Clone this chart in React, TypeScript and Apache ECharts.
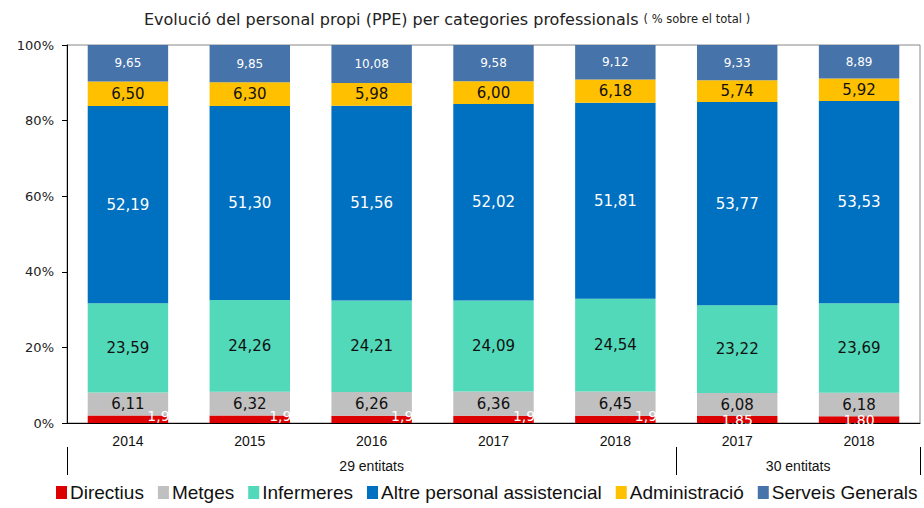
import React, { useEffect, useRef } from "react";
import * as echarts from "echarts";

const categories = ["2014", "2015", "2016", "2017", "2018", "2017", "2018"];
const groupNames = ["29 entitats", "30 entitats"];
const groupSizes = [5, 2];

const seriesNames = [
  "Directius",
  "Metges",
  "Infermeres",
  "Altre personal assistencial",
  "Administració",
  "Serveis Generals",
];
const directius = [1.96, 1.97, 1.91, 1.95, 1.9, 1.85, 1.8];
const metges = [6.11, 6.32, 6.26, 6.36, 6.45, 6.08, 6.18];
const infermeres = [23.59, 24.26, 24.21, 24.09, 24.54, 23.22, 23.69];
const altre = [52.19, 51.3, 51.56, 52.02, 51.81, 53.77, 53.53];
const administracio = [6.5, 6.3, 5.98, 6.0, 6.18, 5.74, 5.92];
const serveis = [9.65, 9.85, 10.08, 9.58, 9.12, 9.33, 8.89];

const yTicks = [0, 20, 40, 60, 80, 100];

const colors = ["#DD0000", "#C0C0C0", "#52D9BA", "#0070C0", "#FFC000", "#4673A9"];
const labelColors = ["#FFFFFF", "#111111", "#111111", "#FFFFFF", "#111111", "#FFFFFF"];
const labelSizes = [14, 15, 15, 15, 15, 12];

const fmt = (v: number) => v.toFixed(2).replace(".", ",");

export default function App() {
  const ref = useRef<HTMLDivElement>(null);
  useEffect(() => {
    if (!ref.current) return;
    const chart = echarts.init(ref.current, null, { renderer: "svg" });
    const allData = [directius, metges, infermeres, altre, administracio, serveis];

    const bounds: number[] = [0];
    groupSizes.forEach((s) => bounds.push(bounds[bounds.length - 1] + s));
    const centers = groupSizes.map((s, i) => bounds[i] + s / 2);
    const total = bounds[bounds.length - 1];

    const series = allData.map((d, si) => ({
      name: seriesNames[si],
      type: "bar",
      stack: "total",
      barCategoryGap: "34%",
      itemStyle: { color: colors[si] },
      data:
        si === 0
          ? d.map((v, i) => ({
              value: v,
              label: { offset: i < 5 ? [35, -3] : [0, 0] },
            }))
          : d,
      label: {
        show: true,
        position: "inside",
        color: labelColors[si],
        fontSize: labelSizes[si],
        fontFamily: "DejaVu Sans",
        formatter: (p: any) => fmt(p.value),
      },
    }));

    chart.setOption({
      animation: false,
      title: {
        text: "{a|Evolució del personal propi (PPE) per categories professionals} {b|( % sobre el total )}",
        left: 139,
        top: 5,
        textStyle: {
          fontWeight: "normal",
          rich: {
            a: { fontFamily: "DejaVu Sans", fontSize: 16, fontWeight: "normal", color: "#222" },
            b: { fontFamily: "DejaVu Sans", fontSize: 11.5, fontWeight: "normal", color: "#222" },
          },
        },
      },
      grid: {
        left: 67,
        right: 4,
        top: 45,
        bottom: 85,
        show: true,
        borderColor: "#888",
        borderWidth: 1,
      },
      legend: {
        bottom: 1,
        left: 51,
        width: 900,
        itemWidth: 11,
        itemHeight: 13,
        itemGap: 14,
        icon: "rect",
        textStyle: {
          fontFamily: "Liberation Sans",
          fontSize: 19,
          color: "#111",
          padding: [0, 0, 0, -2],
        },
        data: seriesNames,
      },
      xAxis: [
        {
          type: "category",
          data: categories,
          axisLine: { lineStyle: { color: "#000", width: 1 } },
          axisTick: { interval: 0, length: 24, lineStyle: { color: "#000" } },
          axisLabel: {
            interval: 0,
            margin: 11,
            fontFamily: "Liberation Sans",
            fontSize: 14,
            color: "#111",
          },
        },
        {
          type: "value",
          position: "bottom",
          offset: 24,
          min: 0,
          max: total,
          axisLine: { show: false },
          splitLine: { show: false },
          axisTick: {
            show: true,
            customValues: bounds,
            length: 28,
            lineStyle: { color: "#000" },
          },
          axisLabel: {
            customValues: centers,
            margin: 12,
            fontFamily: "Liberation Sans",
            fontSize: 14,
            color: "#111",
            formatter: (v: number) => {
              const idx = centers.findIndex((c) => Math.abs(c - v) < 1e-6);
              return idx >= 0 ? groupNames[idx] : "";
            },
          },
        },
      ],
      yAxis: {
        type: "value",
        min: yTicks[0],
        max: yTicks[yTicks.length - 1],
        interval: 20,
        axisLine: { show: true, lineStyle: { color: "#000" } },
        axisTick: { show: true, length: 5, lineStyle: { color: "#000" } },
        splitLine: { show: false },
        axisLabel: {
          margin: 13,
          formatter: "{value}%",
          fontFamily: "DejaVu Sans",
          fontSize: 13,
          color: "#222",
        },
      },
      series,
    });
    return () => chart.dispose();
  }, []);
  return (
    <div
      ref={ref}
      style={{ position: "absolute", left: 0, top: 0, width: 924, height: 508 }}
    />
  );
}
